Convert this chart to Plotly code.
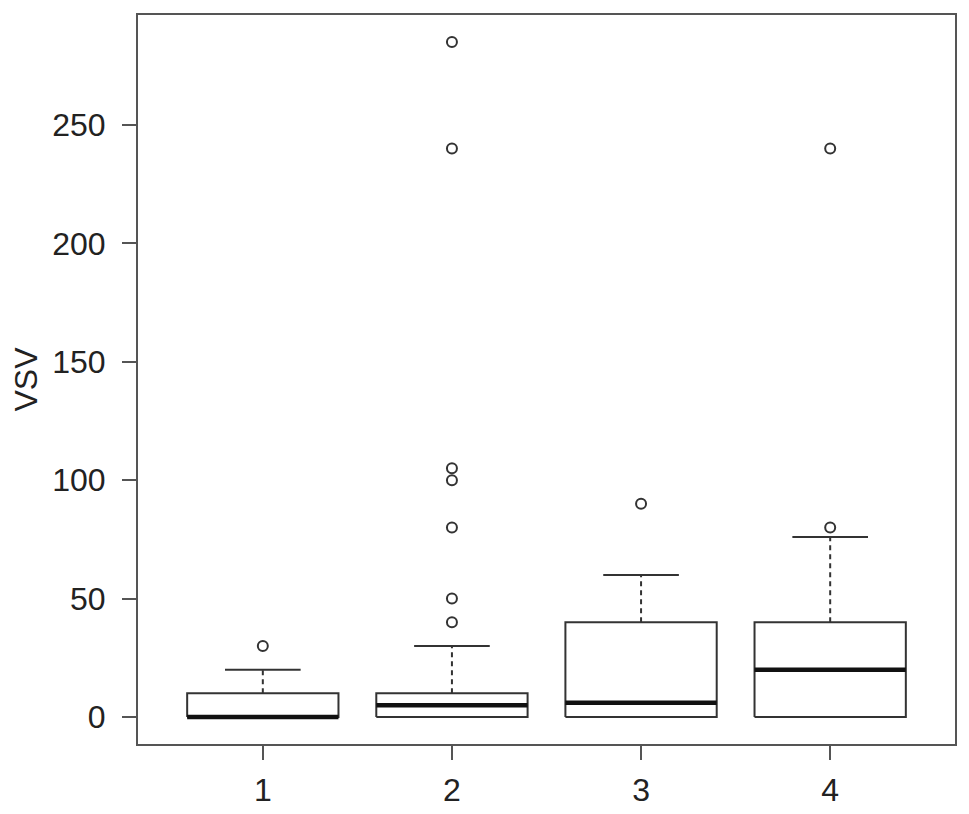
"""R-style boxplot of VSV by group, redrawn with Plotly scatter traces."""

import plotly.graph_objects as go

# Summary statistics per group
groups = [1, 2, 3, 4]
q1 = [0, 0, 0, 0]
median = [0, 5, 6, 20]
q3 = [10, 10, 40, 40]
whisker_low = [0, 0, 0, 0]
whisker_high = [20, 30, 60, 76]
outliers = [
    [30],
    [40, 50, 80, 100, 105, 240, 285],
    [90],
    [80, 240],
]

y_ticks = [0, 50, 100, 150, 200, 250]

BOX_HALF = 0.4
CAP_HALF = 0.2
LINE = "#333333"
FONT = dict(family="Liberation Sans, Arial, sans-serif", size=32, color="#222222")

fig = go.Figure()

for g, lo, a, m, b, hi, outs in zip(groups, whisker_low, q1, median, q3, whisker_high, outliers):
    # box body
    fig.add_trace(go.Scatter(
        x=[g - BOX_HALF, g + BOX_HALF, g + BOX_HALF, g - BOX_HALF, g - BOX_HALF],
        y=[a, a, b, b, a],
        mode="lines", line=dict(color=LINE, width=2), hoverinfo="skip",
    ))
    # whiskers (dashed) and staples
    for end, start in ((hi, b), (lo, a)):
        if end == start:
            continue
        fig.add_trace(go.Scatter(
            x=[g, g], y=[start, end],
            mode="lines", line=dict(color=LINE, width=2, dash="5px,4px"), hoverinfo="skip",
        ))
        fig.add_trace(go.Scatter(
            x=[g - CAP_HALF, g + CAP_HALF], y=[end, end],
            mode="lines", line=dict(color=LINE, width=2), hoverinfo="skip",
        ))
    # median
    fig.add_trace(go.Scatter(
        x=[g - BOX_HALF, g + BOX_HALF], y=[m, m],
        mode="lines", line=dict(color="#111111", width=4.5), hoverinfo="skip",
    ))
    # outliers
    fig.add_trace(go.Scatter(
        x=[g] * len(outs), y=outs,
        mode="markers",
        marker=dict(symbol="circle-open", size=10, color=LINE, line=dict(width=2)),
    ))

axis_common = dict(
    showline=True, mirror=True, linecolor="#555555", linewidth=2,
    ticks="outside", ticklen=14, tickwidth=2, tickcolor="#555555",
    showgrid=False, zeroline=False, tickfont=FONT,
)

fig.update_layout(
    width=969, height=814,
    margin=dict(l=130, r=22, t=5, b=78),
    paper_bgcolor="white", plot_bgcolor="white",
    showlegend=False,
    font=FONT,
    xaxis=dict(
        range=[0.34, 4.66], tickvals=groups, ticktext=[str(g) for g in groups],
        ticklabelstandoff=3, **axis_common,
    ),
    yaxis=dict(
        range=[-11.4, 296.4], tickvals=y_ticks,
        title=dict(text="VSV", font=FONT, standoff=16),
        ticklabelstandoff=10, **axis_common,
    ),
)

fig.write_html("out.html")
